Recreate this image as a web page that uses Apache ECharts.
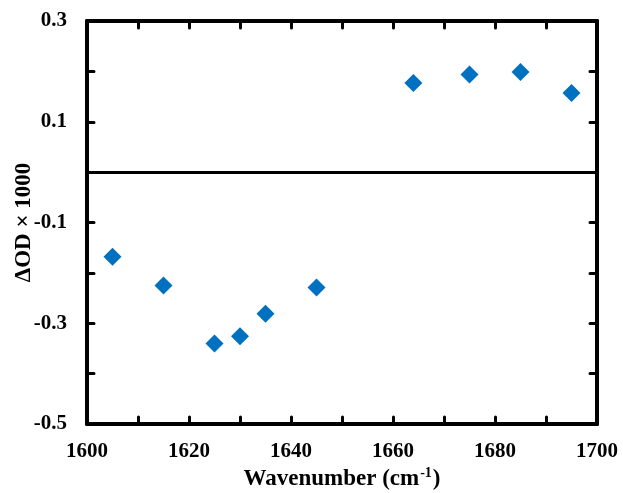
<!DOCTYPE html>
<html>
<head>
<meta charset="utf-8">
<script src="https://cdn.jsdelivr.net/npm/echarts@6/dist/echarts.min.js"></script>
<style>
html,body{margin:0;padding:0;background:#fff;}
#chart{width:623px;height:493px;}
</style>
</head>
<body>
<div id="chart"></div>
<script>
var wavenumbers = [1605, 1615, 1625, 1630, 1635, 1645, 1664, 1675, 1685, 1695];
var deltaOD = [-0.168, -0.225, -0.340, -0.326, -0.281, -0.229, 0.177, 0.194, 0.199, 0.157];
var xTickLabels = [1600, 1620, 1640, 1660, 1680, 1700];
var yTickLabels = ['0.3', '0.1', '-0.1', '-0.3', '-0.5'];

var FONT = '"Liberation Serif", "Times New Roman", serif';
var points = wavenumbers.map(function (w, i) { return [w, deltaOD[i]]; });

function xFmt(v) {
  var r = Math.round(v);
  return xTickLabels.indexOf(r) >= 0 ? String(r) : '';
}
function yFmt(v) {
  var s = (Math.round(v * 10) / 10).toFixed(1);
  if (s === '-0.0') s = '0.0';
  return yTickLabels.indexOf(s) >= 0 ? s : '';
}

var axisLine = { show: true, onZero: false, lineStyle: { color: '#000', width: 4 } };
var axisTick = { show: true, inside: true, length: 7, lineStyle: { color: '#000', width: 3, cap: 'round' } };

var chart = echarts.init(document.getElementById('chart'), null, { renderer: 'canvas' });
chart.setOption({
  animation: false,
  backgroundColor: '#fff',
  grid: { left: 87, right: 26, top: 21, bottom: 69, containLabel: false, outerBoundsMode: 'none' },
  xAxis: [
    {
      type: 'value', min: 1600, max: 1700, interval: 10, position: 'bottom',
      axisLine: axisLine, axisTick: axisTick, splitLine: { show: false },
      axisLabel: { formatter: xFmt, margin: 17, color: '#000', fontFamily: FONT, fontWeight: 'bold', fontSize: 21, showMinLabel: true, showMaxLabel: true },
      name: '{a|Wavenumber (cm}{s|-1}{a|)}', nameLocation: 'middle', nameGap: 42, nameMoveOverlap: false,
      nameTextStyle: {
        rich: {
          a: { fontFamily: FONT, fontWeight: 'bold', fontSize: 23, color: '#000', lineHeight: 26 },
          s: { fontFamily: FONT, fontWeight: 'bold', fontSize: 14, color: '#000', verticalAlign: 'top', lineHeight: 26, padding: [0, 1, 0, 1] }
        }
      }
    },
    {
      type: 'value', min: 1600, max: 1700, interval: 10, position: 'top',
      axisLine: axisLine, axisTick: axisTick, splitLine: { show: false }, axisLabel: { show: false }
    }
  ],
  yAxis: [
    {
      type: 'value', min: -0.5, max: 0.3, interval: 0.1, position: 'left',
      axisLine: axisLine, axisTick: axisTick, splitLine: { show: false },
      axisLabel: { formatter: yFmt, margin: 20, color: '#000', fontFamily: FONT, fontWeight: 'bold', fontSize: 21, showMinLabel: true, showMaxLabel: true },
      name: 'ΔOD × 1000', nameLocation: 'middle', nameGap: 51, nameRotate: 90, nameMoveOverlap: false,
      nameTextStyle: { fontFamily: FONT, fontWeight: 'bold', fontSize: 23, color: '#000' }
    },
    {
      type: 'value', min: -0.5, max: 0.3, interval: 0.1, position: 'right',
      axisLine: axisLine, axisTick: axisTick, splitLine: { show: false }, axisLabel: { show: false }
    }
  ],
  series: [
    {
      type: 'scatter', xAxisIndex: 0, yAxisIndex: 0,
      data: points, symbol: 'diamond', symbolSize: 18,
      itemStyle: { color: '#0070C0', opacity: 1 }, z: 5,
      markLine: {
        silent: true, symbol: 'none', label: { show: false },
        lineStyle: { color: '#000', width: 3, type: 'solid' },
        data: [{ yAxis: 0 }]
      }
    }
  ]
});
</script>
</body>
</html>
